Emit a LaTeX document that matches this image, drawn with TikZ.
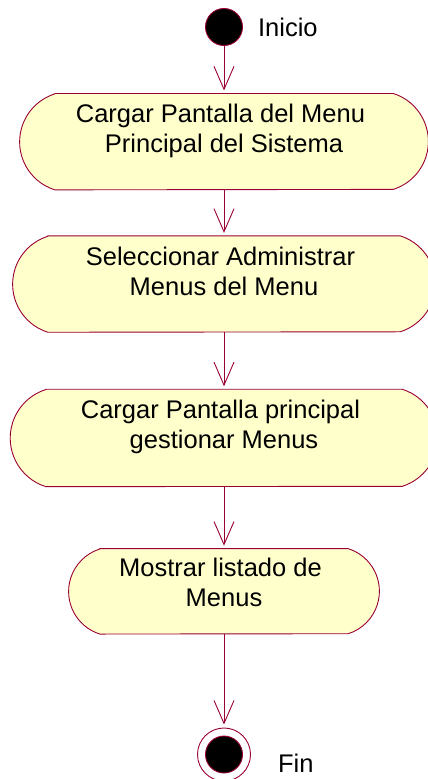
\documentclass[tikz,border=0pt]{standalone}
\usepackage{fontspec}
\setmainfont{Liberation Sans}
\usetikzlibrary{arrows.meta, positioning, backgrounds}

\definecolor{roseline}{RGB}{153,0,51}
\definecolor{rosefill}{RGB}{255,255,204}
\newcommand{\tsp}{\hspace*{0.278em}}

\begin{document}
\begin{tikzpicture}[x=1pt, y=1pt, node distance=46pt, font=\fontsize{25.5}{30}\selectfont]
    \tikzstyle{activity} = [rectangle, align=center, text height=50pt,
        inner xsep=0pt, inner ysep=9pt]
    \tikzstyle{actshape} = [draw=roseline, fill=rosefill, line width=0.9pt]
    \tikzstyle{startstate} = [circle, draw=roseline, fill=black, line width=0.9pt,
        minimum size=37pt, inner sep=0pt]
    \tikzstyle{endstate} = [circle, draw=roseline, line width=0.9pt,
        minimum size=53pt, inner sep=0pt,
        path picture={\fill[black, draw=roseline] (path picture bounding box.center) circle (18.5pt);}]
    \tikzstyle{line} = [draw, roseline, line width=0.9pt,
        -{Straight Barb[length=23pt, width=20pt]}, shorten >=3pt]

    \useasboundingbox (0,0) rectangle (428,-779);

    \node [startstate] (ini) at (224,-27) {};
    \node [right=15pt of ini, inner sep=0pt] (lblini) {Inicio};

    \node [activity, minimum width=338pt, text depth=28pt, below=47.5pt of ini] (act1)
        {Cargar Pantalla del Menu\tsp\\ Principal del Sistema};
    \node [activity, minimum width=352pt, text depth=28pt, below=46pt of act1] (act2)
        {Seleccionar Administrar\tsp\\ Menus del Menu};
    \node [activity, minimum width=356pt, text depth=29pt, below=57pt of act2] (act3)
        {Cargar Pantalla principal\tsp\\ gestionar Menus};
    \node [activity, minimum width=248pt, text height=49pt, text depth=18pt, below=62pt of act3] (act4)
        {Mostrar listado de\tsp\\ Menus};

    \node [endstate, below=93.5pt of act4] (fin) {};
    \node [right=27pt of fin, yshift=-9pt, inner sep=0pt] (lblfin) {Fin};

    % activity outlines: straight top and bottom, arcs at the ends
    \begin{scope}[on background layer]
        \foreach \n/\r in {act1/50.3, act2/50.3, act3/50.9, act4/44.6}
            \draw [actshape] (\n.north west) -- (\n.north east)
                arc [start angle=72.5, end angle=-72.5, radius=\r]
                -- (\n.south west)
                arc [start angle=252.5, end angle=107.5, radius=\r] -- cycle;
    \end{scope}

    \path [line] (ini) -- (act1);
    \path [line] (act1) -- (act2);
    \path [line] (act2) -- (act3);
    \path [line] (act3) -- (act4);
    \path [line] (act4) -- (fin);
\end{tikzpicture}
\end{document}
